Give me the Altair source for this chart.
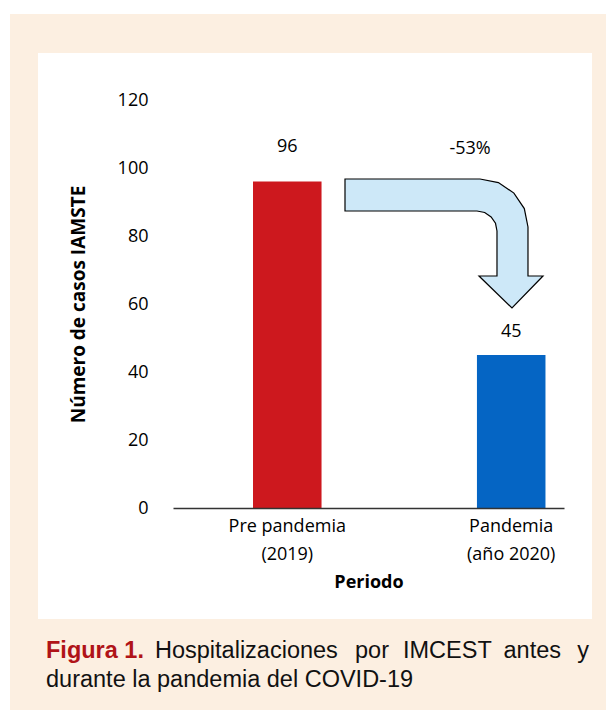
import altair as alt
import pandas as pd

# ---------------- data ----------------
periods = ["Pre pandemia\n(2019)", "Pandemia\n(año 2020)"]
cases = [96, 45]
bar_colors = ["#cd181e", "#0565c4"]
y_ticks = [0, 20, 40, 60, 80, 100, 120]

change_label = "-53%"
change_pos_x = [0.7596]
change_pos_y = [105.6]

# curved arrow outline (x as fraction of plot width, y in cases units)
arrow_x = [0.4399, 0.7852, 0.8322, 0.8719, 0.8985, 0.9079, 0.9079, 0.9463, 0.8670,
           0.7826, 0.8286, 0.8286, 0.8248, 0.8136, 0.7972, 0.7775, 0.4399]
arrow_y = [96.76, 96.76, 95.71, 92.62, 88.06, 82.65, 68.24, 68.24, 58.82,
           68.24, 68.24, 81.47, 83.74, 85.62, 86.91, 87.35, 87.35]

caption_bold = "Figura 1."
caption_line1 = ["Hospitalizaciones", "por", "IMCEST", "antes", "y"]
caption_line2 = "durante la pandemia del COVID-19"

# ---------------- tables ----------------
df = pd.DataFrame({"period": periods, "cases": cases})
arrow_df = pd.DataFrame({"ax": arrow_x, "ay": arrow_y, "i": list(range(len(arrow_x)))})
change_df = pd.DataFrame({"cx": change_pos_x, "cy": change_pos_y, "t": [change_label]})
one = pd.DataFrame({"k": [0]})

FONT = "Open Sans"
CAP_FONT = "Liberation Sans"
Y_TITLE = "Número de casos IAMSTE"

x_scale = alt.Scale(type="band", domain=periods, paddingInner=0.694, paddingOuter=0.22, align=0.812)
y_scale = alt.Scale(domain=[0, 120])
y_axis = alt.Axis(
    values=y_ticks, grid=False, domain=False, ticks=False, labelPadding=25,
    labelFontSize=18, labelFont=FONT, labelColor="#000",
    titleFont=FONT, titleFontSize=19, titleFontWeight="bold", titleColor="#000",
    titlePadding=29, zindex=2,
)

def ychan(field):
    return alt.Y(field, scale=y_scale, axis=y_axis, title=Y_TITLE)

# background panels
peach = alt.Chart(one).mark_rect(color="#fcefe1").encode(
    x=alt.value(-163), x2=alt.value(433), y=alt.value(-86), y2=alt.value(610)
)
white = alt.Chart(one).mark_rect(color="#ffffff").encode(
    x=alt.value(-135), x2=alt.value(419), y=alt.value(-47), y2=alt.value(519)
)

bars = alt.Chart(df).mark_bar().encode(
    x=alt.X(
        "period:N", sort=periods, scale=x_scale, title="Periodo",
        axis=alt.Axis(
            labelExpr="split(datum.label, '\\n')", labelAngle=0, labelFontSize=18,
            labelFont=FONT, labelColor="#000", labelLineHeight=28, labelPadding=9,
            ticks=False, domain=True, domainColor="#333333", domainWidth=1.3,
            titleFont=FONT, titleFontSize=18, titleFontWeight="bold", titleColor="#000",
            titlePadding=10, zindex=2,
        ),
    ),
    y=ychan("cases:Q"),
    color=alt.Color("period:N", scale=alt.Scale(domain=periods, range=bar_colors), legend=None),
)

def bar_label(idx, dy):
    return alt.Chart(df).transform_filter(
        alt.datum.period == periods[idx]
    ).mark_text(font=FONT, fontSize=18, color="#000", dy=dy, baseline="middle").encode(
        x=alt.X("period:N", sort=periods, scale=x_scale, axis=None),
        y=ychan("cases:Q"),
        text=alt.Text("cases:Q"),
    )

lab1 = bar_label(0, -35)
lab2 = bar_label(1, -23)

arrow = alt.Chart(arrow_df).mark_line(
    fill="#cde8f8", stroke="#000000", strokeWidth=1.2, interpolate="linear-closed"
).encode(
    x=alt.X("ax:Q", scale=alt.Scale(domain=[0, 1]), axis=None),
    y=ychan("ay:Q"),
    order=alt.Order("i:Q"),
)

change_text = alt.Chart(change_df).mark_text(
    font=FONT, fontSize=18, color="#000", baseline="middle"
).encode(
    x=alt.X("cx:Q", scale=alt.Scale(domain=[0, 1]), axis=None),
    y=ychan("cy:Q"),
    text="t:N",
)

def cap(text, x, y, align="left", bold=False, color="#111111"):
    return alt.Chart(one).mark_text(
        font=CAP_FONT, fontSize=23.5, fontWeight="bold" if bold else "normal",
        color=color, align=align, baseline="alphabetic",
    ).encode(x=alt.value(x), y=alt.value(y), text=alt.value(text))

caps = [
    cap(caption_bold, -127, 557.7, bold=True, color="#b01318"),
    cap(caption_line1[0], -18, 557.7),
    cap(caption_line1[1], 182, 557.7),
    cap(caption_line1[2], 230, 557.7),
    cap(caption_line1[3], 388, 557.7, align="right"),
    cap(caption_line1[4], 416, 557.7, align="right"),
    cap(caption_line2, -127, 586.7),
]

chart = alt.layer(
    peach, white, bars, lab1, lab2, arrow, change_text, *caps
).resolve_scale(
    x="independent"
).properties(
    width=391, height=408,
    padding={"left": 2, "top": 6, "right": 0, "bottom": 0},
).configure_view(stroke=None)

chart.save("out.html", embed_options={"renderer": "svg", "actions": False})
